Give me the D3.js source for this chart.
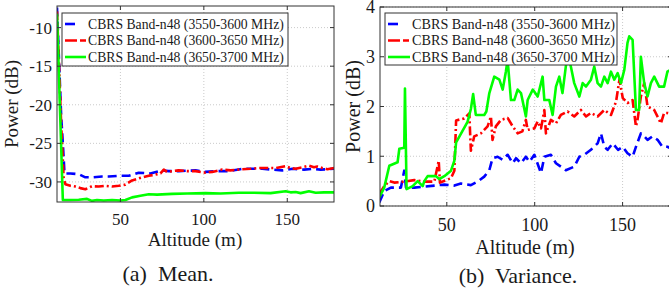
<!DOCTYPE html>
<html><head><meta charset="utf-8"><script src="https://cdn.jsdelivr.net/npm/d3@7"></script></head>
<body style="margin:0">
<svg id="chart" width="669" height="297"></svg>
<script>
// ---- data ----
const seriesNames = [
    "CBRS Band-n48 (3550-3600 MHz)",
    "CBRS Band-n48 (3600-3650 MHz)",
    "CBRS Band-n48 (3650-3700 MHz)"
];
const xTicks = [50, 100, 150];
const meanTicks = [-30, -25, -20, -15, -10];
const varTicks = [0, 1, 2, 3, 4];

// (a) mean
const meanBlueAlt = [12, 14.5, 15.5, 16.5, 20, 25, 29, 33, 39, 43, 49, 55, 61, 68, 75, 79, 85, 95, 101, 108, 115, 123, 130, 135, 141, 147, 153, 160, 165, 170, 178];
const meanBluePow = [-7.4, -21.5, -25, -28.9, -28.9, -29.0, -29.4, -29.4, -29.3, -29.3, -29.2, -29.2, -28.8, -28.9, -28.5, -28.6, -28.6, -28.5, -28.7, -28.6, -28.6, -28.3, -28.3, -28.3, -28.4, -28.5, -28.3, -28.4, -28.3, -28.4, -28.3];
const meanRedAlt = [12, 14.5, 16, 17, 20, 23, 26, 29, 33, 37, 41, 45, 49, 53, 57, 60, 63, 67, 71, 74, 76, 78, 81, 85, 90, 95, 101, 105, 111, 116, 123, 128, 133, 138, 143, 149, 152, 155, 159, 163, 166, 168, 171, 174, 178];
const meanRedPow = [-7.9, -22.5, -29.5, -30.3, -30.5, -30.6, -30.8, -30.95, -30.55, -30.6, -30.5, -30.6, -30.5, -30.35, -29.8, -29.6, -29.4, -29.2, -29.05, -28.9, -28.4, -28.7, -28.6, -28.5, -28.6, -28.6, -28.8, -28.7, -28.4, -28.5, -28.35, -28.3, -28.2, -28.2, -28.2, -27.95, -28.2, -28.3, -28.1, -27.9, -28.1, -28.0, -28.2, -28.35, -28.2];
const meanGreenAlt = [12, 15.5, 20, 25, 30, 33, 36, 40, 45, 50, 53, 57, 62, 67, 72, 81, 90, 101, 110, 121, 130, 140, 149, 152, 155, 158, 163, 167, 172, 178];
const meanGreenPow = [-8.2, -32.35, -32.35, -32.3, -32.2, -32.45, -32.35, -32.4, -32.35, -32.4, -32.35, -32.0, -31.8, -31.6, -31.65, -31.55, -31.5, -31.45, -31.5, -31.4, -31.4, -31.45, -31.2, -31.35, -31.3, -31.45, -31.2, -31.4, -31.35, -31.35];

// (b) variance
const varBlueAlt = [11.6, 14.4, 18.2, 23.9, 25.8, 26.8, 31.5, 37.2, 42.9, 48.6, 54.3, 58, 63.7, 67.5, 71.3, 74.2, 76, 78.9, 81.8, 84.6, 87.5, 89.4, 92.2, 95, 97, 99.8, 103.6, 105.5, 109.2, 112.1, 114.9, 117.7, 122.5, 125.4, 128.2, 132, 135.8, 137.7, 139.6, 141.5, 144.4, 147.4, 150.1, 152.8, 155.7, 157.6, 160.4, 162.3, 164.2, 167, 169.9, 172.7, 175.5, 178];
const varBlueVal = [0.07, 0.3, 0.37, 0.37, 0.71, 0.37, 0.37, 0.39, 0.41, 0.43, 0.41, 0.45, 0.42, 0.49, 0.59, 0.72, 0.96, 0.99, 0.93, 1.03, 0.86, 0.96, 0.86, 0.99, 0.89, 1.03, 0.66, 0.99, 1.03, 0.86, 0.79, 0.72, 0.79, 0.99, 1.03, 1.13, 1.26, 1.46, 1.19, 1.13, 1.26, 1.13, 1.19, 1.06, 0.99, 1.19, 1.46, 1.4, 1.33, 1.4, 1.33, 1.19, 1.19, 1.15];
const varRedAlt = [11.6, 14.4, 17.3, 20.1, 25.8, 31.5, 37.2, 42.9, 45.4, 46.1, 52.4, 54.3, 55.3, 59.9, 62.8, 63.7, 65.6, 69.4, 73.2, 75.1, 76, 77.9, 80.8, 84.6, 87.5, 90.3, 93, 95, 96, 99.8, 101.7, 103.6, 105.5, 106.4, 109.2, 112.1, 114.9, 118.7, 122.5, 126.3, 129.2, 132, 135.8, 139.6, 143.4, 146.3, 148.2, 150.1, 152.8, 155.7, 157.6, 158.5, 160.4, 162.3, 164.2, 168, 171.8, 173.6, 175.5, 178];
const varRedVal = [0.24, 0.4, 0.5, 0.47, 0.49, 0.52, 0.49, 0.49, 0.91, 0.47, 0.56, 0.71, 1.72, 1.76, 1.86, 1.11, 1.4, 1.46, 1.6, 1.8, 1.33, 1.6, 1.73, 1.77, 1.6, 1.46, 1.5, 1.73, 1.53, 1.56, 1.7, 1.56, 1.93, 1.46, 1.73, 1.66, 1.83, 1.9, 1.8, 1.93, 1.8, 1.87, 1.8, 1.93, 1.83, 2.1, 2.54, 2.17, 2.07, 2.13, 1.6, 1.73, 2.2, 2.47, 2.0, 1.93, 1.66, 1.87, 1.87, 1.85];
const varGreenAlt = [11.6, 14.4, 17.3, 22, 23, 25.8, 26.2, 27.1, 30.6, 33.4, 36.3, 37.2, 39.1, 43.8, 45.7, 48.6, 52.4, 54.3, 55.3, 58, 61.8, 63.7, 65, 66.5, 71.3, 72.5, 74.2, 77, 79.9, 81.8, 83.6, 84.6, 86.5, 88.4, 90.3, 92.2, 95, 96, 98.9, 101.7, 104.5, 105.5, 108.3, 110.2, 112.1, 114, 115.8, 117.7, 118.7, 120.6, 122.5, 125.4, 127.3, 129.2, 132, 133.9, 135.8, 137.7, 139.6, 141.5, 143.4, 145.3, 147.2, 149.1, 151, 152.8, 153.8, 155.7, 157.6, 159.4, 160.4, 162.3, 164.2, 166.1, 168, 170.8, 173.6, 175.5, 178];
const varGreenVal = [0.17, 0.37, 0.81, 0.88, 1.15, 1.17, 2.36, 0.34, 0.4, 0.5, 0.4, 0.5, 0.6, 0.6, 0.54, 0.6, 0.71, 0.91, 1.28, 1.45, 1.69, 1.95, 2.25, 1.83, 1.83, 1.9, 2.27, 2.6, 2.54, 2.34, 2.7, 2.94, 2.13, 2.13, 2.34, 2.27, 1.8, 2.13, 2.34, 2.2, 2.6, 2.13, 2.13, 1.83, 2.4, 2.6, 2.27, 2.8, 3.07, 2.8, 2.47, 2.2, 2.47, 2.4, 2.54, 2.8, 2.47, 2.4, 2.6, 2.47, 2.7, 2.54, 2.67, 2.47, 2.74, 3.28, 3.41, 3.34, 1.93, 1.93, 3.0, 2.47, 2.2, 2.47, 2.6, 2.4, 2.4, 2.7, 2.75];

const colors = ["#0000ff", "#ff0000", "#00ff00"];
const dashes = ["9,5", "9,3,2,3", null];
const legendDashes = ["10,30", "12,3,6,30", null];

// pair up x/y arrays into points
function zip(xs, ys) {
    return xs.map((x, i) => [x, ys[i]]);
}

const svg = d3.select("#chart");

// every text goes through this so the serif font is applied
function addText(parent, size) {
    return parent.append("text")
        .attr("font-size", size)
        .style("font-family", "'Liberation Serif'")
        .attr("fill", "#1a1a1a");
}

/**
 * Draw one MATLAB-style subplot (box, dotted grid, inward ticks, legend).
 */
function drawPanel(opt) {
    const x = d3.scaleLinear().domain([12, 178]).range(opt.xRange);
    const y = d3.scaleLinear().domain(opt.yDomain).range(opt.yRange);
    const [x0, x1] = opt.xRange;
    const [y1, y0] = opt.yRange; // y1 = bottom, y0 = top
    const g = svg.append("g");

    // grid
    const grid = g.append("g").attr("stroke", "#bdbdbd").attr("stroke-width", 0.8)
        .attr("stroke-dasharray", "1,2");
    grid.selectAll(".gx").data(xTicks).enter().append("line")
        .attr("x1", d => x(d)).attr("x2", d => x(d))
        .attr("y1", y0).attr("y2", y1);
    grid.selectAll(".gy").data(opt.yTicks).enter().append("line")
        .attr("x1", x0).attr("x2", x1)
        .attr("y1", d => y(d)).attr("y2", d => y(d));

    // lines (clipped to axes)
    const clipId = "clip" + opt.id;
    svg.append("clipPath").attr("id", clipId).append("rect")
        .attr("x", x0).attr("y", y0).attr("width", x1 - x0).attr("height", y1 - y0);
    const line = d3.line().x(d => x(d[0])).y(d => y(d[1]));
    g.append("g").attr("clip-path", `url(#${clipId})`)
        .selectAll("path").data(opt.series).enter().append("path")
        .attr("d", d => line(d))
        .attr("fill", "none")
        .attr("stroke", (d, i) => colors[i])
        .attr("stroke-width", 2.6)
        .attr("stroke-linejoin", "round")
        .attr("stroke-dasharray", (d, i) => dashes[i]);

    // box and inward ticks
    const axisColor = "#333";
    g.append("rect").attr("x", x0).attr("y", y0)
        .attr("width", x1 - x0).attr("height", y1 - y0)
        .attr("fill", "none").attr("stroke", axisColor).attr("stroke-width", 1);
    const tk = 4;
    xTicks.forEach(t => {
        g.append("line").attr("x1", x(t)).attr("x2", x(t)).attr("y1", y1).attr("y2", y1 - tk).attr("stroke", axisColor);
        g.append("line").attr("x1", x(t)).attr("x2", x(t)).attr("y1", y0).attr("y2", y0 + tk).attr("stroke", axisColor);
    });
    opt.yTicks.forEach(t => {
        g.append("line").attr("x1", x0).attr("x2", x0 + tk).attr("y1", y(t)).attr("y2", y(t)).attr("stroke", axisColor);
        g.append("line").attr("x1", x1).attr("x2", x1 - tk).attr("y1", y(t)).attr("y2", y(t)).attr("stroke", axisColor);
    });

    // tick labels
    xTicks.forEach(t => {
        addText(g, opt.tickSize).attr("x", x(t)).attr("y", y1 + opt.xTickDy)
            .attr("text-anchor", "middle").text(t);
    });
    opt.yTicks.forEach(t => {
        addText(g, opt.tickSize).attr("x", x0 - 5).attr("y", Math.max(y(t), 7)).attr("dy", "0.35em")
            .attr("text-anchor", "end").text(t);
    });

    // axis labels
    addText(g, opt.labelSize).attr("x", opt.xLabelX).attr("y", y1 + opt.xLabelDy)
        .attr("text-anchor", "middle").text("Altitude (m)");
    addText(g, opt.labelSize)
        .attr("transform", `translate(${opt.yLabelX},${(y0 + y1) / 2}) rotate(-90)`)
        .attr("text-anchor", "middle").text("Power (dB)");

    // caption
    addText(g, 22).attr("x", opt.captionX).attr("y", opt.captionY)
        .attr("text-anchor", "middle").style("white-space", "pre")
        .text(opt.caption);

    // legend
    const lg = opt.legend;
    g.append("rect").attr("x", lg.x).attr("y", lg.y).attr("width", lg.w).attr("height", lg.h)
        .attr("fill", "#fff").attr("stroke", axisColor).attr("stroke-width", 1);
    seriesNames.forEach((name, i) => {
        const ry = lg.y + 11 + i * 16.5;
        g.append("line").attr("x1", lg.x + 3).attr("x2", lg.x + lg.sample)
            .attr("y1", ry).attr("y2", ry)
            .attr("stroke", colors[i]).attr("stroke-width", 2.6)
            .attr("stroke-dasharray", legendDashes[i]);
        addText(g, lg.size).attr("x", lg.x + lg.sample + 2).attr("y", ry).attr("dy", "0.35em")
            .text(name);
    });
}

drawPanel({
    id: "a",
    xRange: [57, 334], yRange: [202, 6], yDomain: [-32.6, -7.2], yTicks: meanTicks,
    series: [zip(meanBlueAlt, meanBluePow), zip(meanRedAlt, meanRedPow), zip(meanGreenAlt, meanGreenPow)],
    tickSize: 17, labelSize: 19, xTickDy: 23, xLabelDy: 44, xLabelX: 195, yLabelX: 18,
    caption: "(a)  Mean.", captionX: 168, captionY: 281,
    legend: { x: 62, y: 13, w: 226, h: 53, sample: 24, size: 13.7 }
});

drawPanel({
    id: "b",
    xRange: [380, 671.8], yRange: [206, 7], yDomain: [0, 4], yTicks: varTicks,
    series: [zip(varBlueAlt, varBlueVal), zip(varRedAlt, varRedVal), zip(varGreenAlt, varGreenVal)],
    tickSize: 18, labelSize: 20, xTickDy: 25, xLabelDy: 48, xLabelX: 525, yLabelX: 360,
    caption: "(b)  Variance.", captionX: 518, captionY: 283,
    legend: { x: 385, y: 13, w: 232, h: 52, sample: 25, size: 14.2 }
});
</script>
</body>
</html>
